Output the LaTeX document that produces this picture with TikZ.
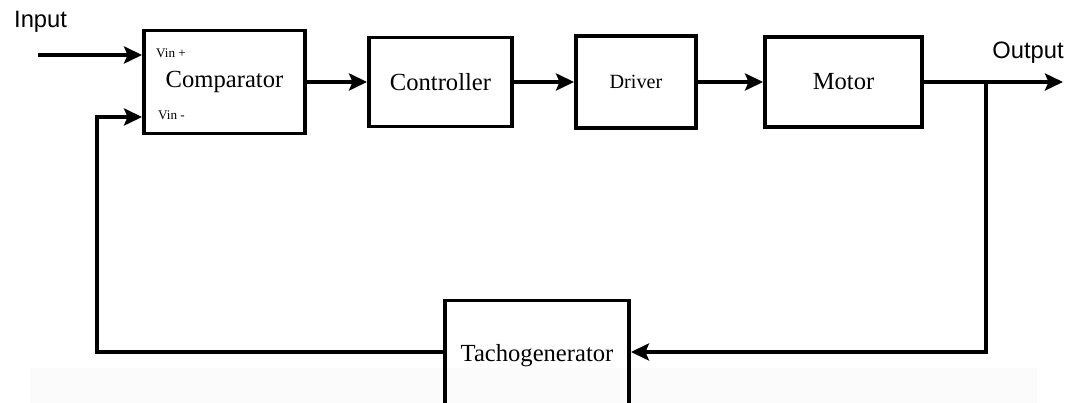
\documentclass[tikz,border=0pt]{standalone}
\usepackage{fontspec}
\setmainfont{Liberation Serif}
\newfontfamily\sanslab{Liberation Sans}
\usetikzlibrary{arrows.meta}

\begin{document}
\begin{tikzpicture}[font=\fontsize{14}{16}\selectfont,
  blk/.style={draw, line width=2.2pt, inner sep=0pt},
  sig/.style={-{Stealth[length=3.6mm, width=3.4mm, inset=0.7mm]}, line width=2.2pt},
  io/.style={font=\fontsize{13.5}{15}\selectfont\sanslab},
  pin/.style={anchor=west, font=\fontsize{7.5}{8}\selectfont}]

  \useasboundingbox (0,0) rectangle (21.42,8.06);
  % faint strip at the bottom
  \fill[black!1.5] (0.6,0) rectangle (20.74,0.7);

  % forward path
  \node[blk, minimum width=3.22cm, minimum height=2.06cm] (cmp) at (4.49,6.42) {Comparator};
  \node[blk, minimum width=2.86cm, minimum height=1.78cm] (ctl) at (8.81,6.42) {Controller};
  \node[blk, minimum width=2.4cm, minimum height=1.84cm, font=\fontsize{11.5}{13}\selectfont]
    (drv) at (12.72,6.42) {Driver};
  \node[blk, minimum width=3.14cm, minimum height=1.8cm] (mot) at (16.87,6.42) {Motor};
  \node[pin] (vp) at (3.0,7.0) {Vin +};
  \node[pin] (vm) at (3.04,5.76) {Vin -};

  % feedback element
  \node[blk, minimum width=3.68cm, minimum height=2.2cm] (tach) at (10.74,0.95) {Tachogenerator};

  % labels
  \node[io, anchor=west] (inl) at (0.16,7.62) {Input};
  \node[io] (outl) at (20.56,7.0) {Output};

  \coordinate (in) at (0.76,6.96);
  \coordinate (out) at (21.26,6.42);
  \coordinate (tap) at (19.72,6.42);
  \coordinate (fbr) at (19.72,1.02);
  \coordinate (fbl) at (1.94,1.02);
  \coordinate (fbu) at (1.94,5.72);

  \draw[sig] (in) -- (in -| cmp.west);
  \draw[sig] (cmp) -- (ctl);
  \draw[sig] (ctl) -- (drv);
  \draw[sig] (drv) -- (mot);
  \draw[sig] (mot) -- (out);
  \draw[sig] (tap) -- (fbr) -- (fbr -| tach.east);
  \draw[sig] (fbl -| tach.west) -- (fbl) -- (fbu) -- (fbu -| cmp.west);
\end{tikzpicture}
\end{document}
